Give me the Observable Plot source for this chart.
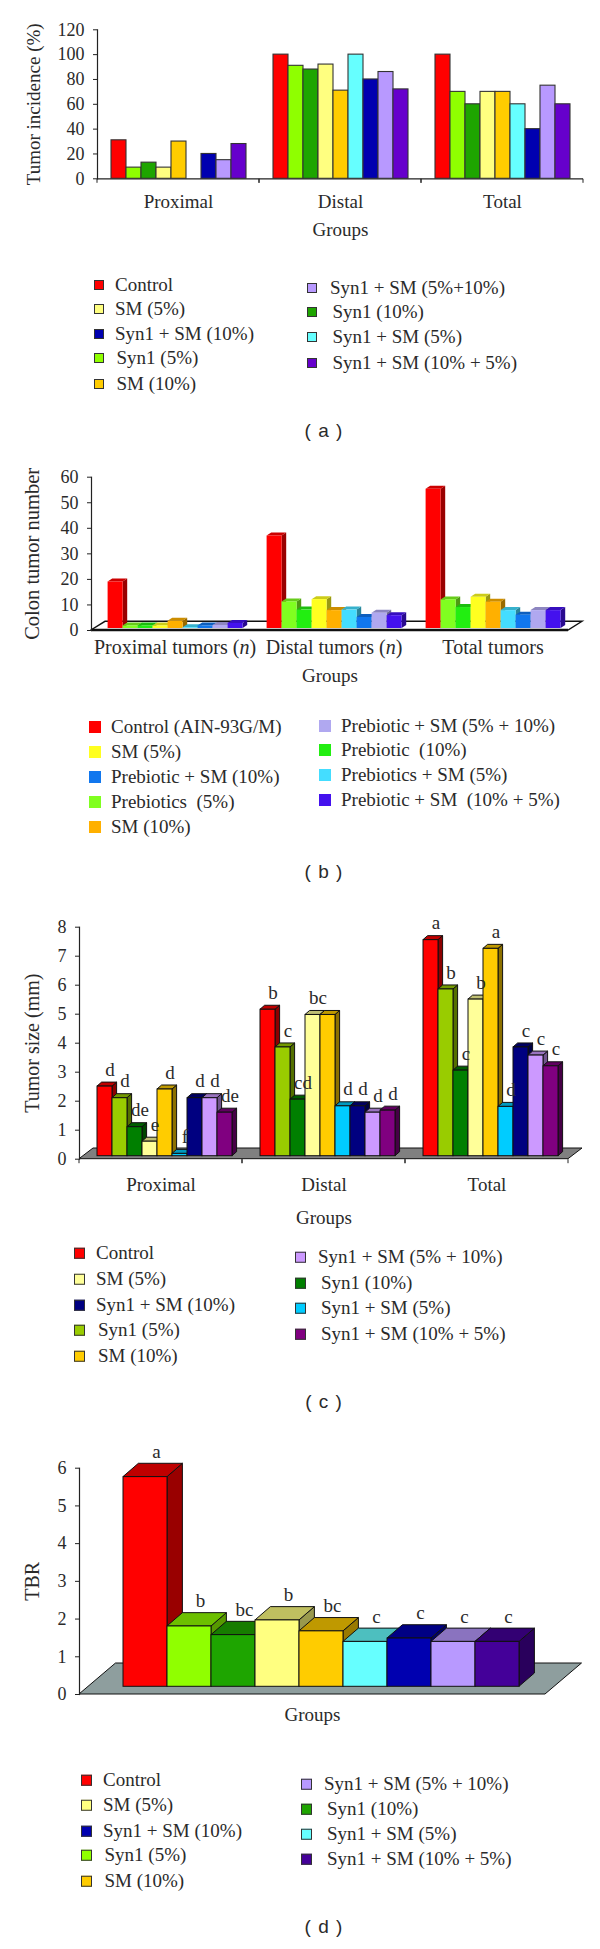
<!DOCTYPE html>
<html><head><meta charset="utf-8">
<script src="https://cdn.jsdelivr.net/npm/d3@7"></script>
<script src="https://cdn.jsdelivr.net/npm/@observablehq/plot@0.6"></script>
<style>
html,body{margin:0;padding:0;background:#fff}
#page{position:relative;width:600px;height:1949px;overflow:hidden;font-family:"Liberation Serif",serif;color:#2a2a2a}
#page svg{position:absolute;left:0;background:transparent}
.leg{position:absolute;white-space:pre;font-size:19px;line-height:20px;transform:translateY(-10px)}
.sw{position:absolute;box-sizing:border-box;transform:translateY(-50%)}
.cap{position:absolute;font-family:"Liberation Sans",sans-serif;font-size:19px;letter-spacing:1px;transform:translate(-50%,-50%);white-space:pre}
</style></head><body><div id="page"></div>
<script>
const groups3 = ["Proximal", "Distal", "Total"];
const seriesKeys = ["Control","Syn1 5","Syn1 10","SM 5","SM 10","Mix 5","Mix 10","Mix 5+10","Mix 10+5"];

// (a) tumor incidence
const incidenceProximal = [31, 9, 13, 9, 30, 0, 20, 15, 28];
const incidenceDistal   = [100, 91, 88, 92, 71, 100, 80, 86, 72];
const incidenceTotal    = [100, 70, 60, 70, 70, 60, 40, 75, 60];
const colorsA = ["#ff0000","#8fff00","#1ea500","#ffff80","#ffcc00","#66ffff","#0000b0","#b899ff","#6600cc"];

// (b) colon tumor number
const groupsB = ["Proximal tumors (n)", "Distal tumors (n)", "Total tumors"];
const numberProximal = [18.2, 1, 1, 1, 2.8, 0.3, 1, 1.2, 2];
const numberDistal   = [36.2, 10.4, 7.2, 11.3, 7, 7.2, 4.3, 6, 5];
const numberTotal    = [54.5, 11.2, 8.2, 12.2, 10.3, 7, 5.2, 7, 7];
const colorsB = ["#ff0000","#80ff20","#22ee11","#ffff20","#ffb000","#44ddff","#1177ee","#b0a8f0","#4411ee"];

// (c) tumor size
const sizeProximal = [2.4, 2.0, 1.0, 0.5, 2.3, 0.08, 2.0, 2.0, 1.5];
const sizeDistal   = [5.05, 3.75, 1.95, 4.87, 4.87, 1.72, 1.72, 1.5, 1.57];
const sizeTotal    = [7.45, 5.75, 2.95, 5.4, 7.15, 1.7, 3.75, 3.47, 3.1];
const lettersProximal = ["d","d","de","e","d","f","d","d","de"];
const lettersDistal   = ["b","c","cd","bc","","d","d","d","d"];
const lettersTotal    = ["a","b","c","b","a","d","c","c","c"];
const colorsC = ["#ff0000","#99cc00","#007f00","#ffff99","#ffcc00","#00ccff","#000080","#cc99ff","#800080"];

// (d) TBR
const tbrValues  = [5.56, 1.6, 1.37, 1.76, 1.47, 1.19, 1.28, 1.19, 1.19];
const tbrLetters = ["a","b","bc","b","bc","c","c","c","c"];
const colorsD = ["#ff0000","#90ff00","#1ea500","#ffff80","#ffcc00","#66ffff","#0000b0","#b899ff","#440099"];

// legends
const legendLeftA = ["Control","SM (5%)","Syn1 + SM (10%)","Syn1 (5%)","SM (10%)"];
const legendRightA = ["Syn1 + SM (5%+10%)","Syn1 (10%)","Syn1 + SM (5%)","Syn1 + SM (10% + 5%)"];
const legendLeftB = ["Control (AIN-93G/M)","SM (5%)","Prebiotic + SM (10%)","Prebiotics  (5%)","SM (10%)"];
const legendRightB = ["Prebiotic + SM (5% + 10%)","Prebiotic  (10%)","Prebiotics + SM (5%)","Prebiotic + SM  (10% + 5%)"];
const legendLeftC = ["Control","SM (5%)","Syn1 + SM (10%)","Syn1 (5%)","SM (10%)"];
const legendRightC = ["Syn1 + SM (5% + 10%)","Syn1 (10%)","Syn1 + SM (5%)","Syn1 + SM (10% + 5%)"];
const leftOrder = [0,3,6,1,4];
const rightOrder = [7,2,5,8];

const page = document.getElementById("page");
const FONT = "Liberation Serif";
const shade = (c,k)=>{const r=d3.rgb(c);return d3.rgb(r.r*k,r.g*k,r.b*k).formatHex();};
const NS = "http://www.w3.org/2000/svg";
function el(name, attrs){const e=document.createElementNS(NS,name);for(const k in attrs)e.setAttribute(k,attrs[k]);return e;}

function panel(o){
  const rows = o.values.flatMap((vals,g)=>vals.map((v,s)=>({
    group:o.groups?o.groups[g]:null, series:seriesKeys[s], value:v, color:o.colors[s],
    letter:o.letters?o.letters[g][s]:""})));
  const fx = o.groups ? (d=>d.group) : undefined;
  const marks = [];
  const y0 = (s)=>s.y(0);
  if(o.floor){
    marks.push(Plot.frame({facet:"super",stroke:"none",fill:"none",render(i,s,v,dim){
      const g = el("g",{});
      const L=dim.marginLeft,R=dim.width-dim.marginRight,Y=y0(s),F=o.floor;
      g.appendChild(el("polygon",{points:`${L},${Y} ${R},${Y} ${R+F.dx},${Y+F.dy} ${L+F.dx},${Y+F.dy}`,
        fill:F.fill,stroke:F.stroke,"stroke-width":F.width}));
      if(F.front) g.appendChild(el("line",{x1:L,x2:R,y1:Y,y2:Y,stroke:F.stroke,"stroke-width":F.front}));
      return g;
    }}));
  } else {
    marks.push(Plot.ruleY([0],{stroke:"#222",strokeWidth:1.2}));
  }
  marks.push(Plot.frame({anchor:"left",facet:"super",stroke:"#222",strokeWidth:1.2}));
  if(o.boundaryTicks){
    marks.push(Plot.ruleY([0],{stroke:"none",render(i,s,v,dim,ctx,next){
      const g=next(i,s,v,dim,ctx);const Y=y0(s);
      for(const X of [dim.marginLeft,dim.width-dim.marginRight])
        g.appendChild(el("line",{x1:X,x2:X,y1:Y,y2:Y+4,stroke:"#222","stroke-width":1}));
      return g;
    }}));
  }
  const d3opt = o.depth;
  marks.push(Plot.barY(rows,{x:"series",y:"value",fx,fill:"color",stroke:o.stroke||"none",strokeWidth:o.strokeWidth||1,
    render(i,s,v,dim,ctx,next){
      const g=next(i,s,v,dim,ctx);
      if(!d3opt) return g;
      const rects=[...g.querySelectorAll("rect")];
      rects.forEach((r,j)=>{
        const c=rows[i[j]].color;
        const x=+r.getAttribute("x"),yy=+r.getAttribute("y"),w=+r.getAttribute("width"),h=+r.getAttribute("height");
        const dx=d3opt.dx,dy=d3opt.dy;
        const st={stroke:o.stroke||"none","stroke-width":o.strokeWidth||1};
        const side=el("polygon",{points:`${x+w},${yy} ${x+w+dx},${yy+dy} ${x+w+dx},${yy+h+dy} ${x+w},${yy+h}`,fill:shade(c,d3opt.side),...st});
        const top=el("polygon",{points:`${x},${yy} ${x+dx},${yy+dy} ${x+w+dx},${yy+dy} ${x+w},${yy}`,fill:shade(c,d3opt.top),...st});
        g.insertBefore(side,r);g.insertBefore(top,r);
      });
      const outer=el("g",{transform:`translate(${d3opt.ox},${d3opt.oy})`});
      outer.appendChild(g);
      return outer;
    }}));
  if(o.letters){
    marks.push(Plot.text(rows,{x:"series",y:"value",fx,text:"letter",dx:o.letterDx,dy:o.letterDy,fontSize:19,fill:"#2a2a2a"}));
  }
  marks.push(Plot.axisY({ticks:o.yTicks,tickFormat:d=>String(d),tickSize:4,tickPadding:9,fontSize:18,label:null,stroke:"#222"}));
  marks.push(Plot.axisY({ticks:[],label:o.yLabel,labelAnchor:"center",labelOffset:o.yLabelOffset,labelArrow:"none",fontSize:o.yLabelSize}));
  if(o.groups){
    marks.push(Plot.axisFx({anchor:"bottom",tickSize:0,tickPadding:o.catPad,label:null,fontSize:o.catSize||19,dx:o.catDx||0}));
    marks.push(Plot.axisFx({anchor:"bottom",ticks:[],label:"Groups",labelAnchor:"center",labelOffset:o.groupOffset,labelArrow:"none",fontSize:19}));
  } else {
    marks.push(Plot.axisX({anchor:"bottom",ticks:[],label:"Groups",labelAnchor:"center",labelOffset:o.groupOffset,labelArrow:"none",fontSize:19,dx:o.catDx||0}));
  }
  const chart = Plot.plot({
    width:600,height:o.height,marginLeft:o.ml,marginRight:o.mr,marginTop:o.mt,marginBottom:o.height-o.y0,
    style:{fontFamily:FONT,background:"transparent",color:"#2a2a2a",overflow:"visible"},
    x:{domain:seriesKeys,paddingInner:0,paddingOuter:o.pad,axis:null,label:null},
    y:{domain:o.yDomain,axis:null,label:null},
    ...(o.groups?{fx:{domain:o.groups,padding:0,axis:null,label:null}}:{}),
    marks
  });
  // italic n in the category labels, as in the reference
  chart.querySelectorAll("text").forEach(t=>{
    const holder=[...t.querySelectorAll("tspan")].find(s=>s.textContent.includes("(n)"))||(t.textContent.includes("(n)")?t:null);
    if(holder){
      const parts=holder.textContent.split("(n)");
      holder.textContent=parts[0]+"(";
      const it=el("tspan",{"font-style":"italic"});it.textContent="n";holder.appendChild(it);
      holder.appendChild(document.createTextNode(")"));
    }
  });
  chart.style.top=o.top+"px";
  page.appendChild(chart);
}

function legend(top,left,right,colors,L,R,size,border){
  const add=(names,order,col)=>names.forEach((t,i)=>{
    const sw=document.createElement("div");sw.className="sw";
    sw.style.cssText=`left:${col.sx}px;top:${top+col.ys[i]}px;width:${size}px;height:${size}px;background:${colors[order[i]]};${border?"border:1.2px solid #333;":""}`;
    page.appendChild(sw);
    const d=document.createElement("div");d.className="leg";d.textContent=t;
    d.style.left=col.tx[i]+"px";d.style.top=(top+col.ys[i])+"px";page.appendChild(d);
  });
  add(left,leftOrder,L);add(right,rightOrder,R);
}
function caption(t,y){const d=document.createElement("div");d.className="cap";d.textContent=t;d.style.left="324px";d.style.top=y+"px";page.appendChild(d);}

panel({top:0,height:250,ml:96,mr:17,mt:29.3,y0:178.3,pad:0.72,yDomain:[0,120],yTicks:[0,20,40,60,80,100,120],
  groups:groups3,values:[incidenceProximal,incidenceDistal,incidenceTotal],colors:colorsA,stroke:"#333",strokeWidth:1.1,
  yLabel:"Tumor incidence (%)",yLabelOffset:71,yLabelSize:19,catPad:16,groupOffset:57,boundaryTicks:true});
legend(0,legendLeftA,legendRightA,colorsA,
  {sx:94,tx:[115,115,115,116.5,116.5],ys:[285,309,334,358,384]},
  {sx:307,tx:[330,332.5,332.5,332.5],ys:[288,312,337,363]},10,true);
caption("( a )",431);

panel({top:450,height:250,ml:91,mr:32,mt:26.7,y0:180,pad:0.72,yDomain:[0,60],yTicks:[0,10,20,30,40,50,60],
  groups:groupsB,values:[numberProximal,numberDistal,numberTotal],colors:colorsB,
  depth:{dx:4.6,dy:-3,ox:4.6,oy:-2,side:0.6,top:0.8},floor:{dx:14,dy:-8.7,fill:"#fff",stroke:"#111",width:1.4,front:2.4},
  yLabel:"Colon tumor number",yLabelOffset:67,yLabelSize:20.5,catPad:9,catDx:4,catSize:20,groupOffset:51});
legend(450,legendLeftB,legendRightB,colorsB,
  {sx:89,tx:[111,111,111,111,111],ys:[277,302,327,352,377]},
  {sx:319,tx:[341,341,341,341],ys:[276,300,325,350]},12,false);
caption("( b )",872);

panel({top:900,height:345,ml:78,mr:31.5,mt:26.7,y0:258.7,pad:0.72,yDomain:[0,8],yTicks:[0,1,2,3,4,5,6,7,8],
  groups:groups3,values:[sizeProximal,sizeDistal,sizeTotal],colors:colorsC,stroke:"#111",strokeWidth:1,
  letters:[lettersProximal,lettersDistal,lettersTotal],letterDx:9,letterDy:-20,
  depth:{dx:4.6,dy:-4,ox:4,oy:-3,side:0.55,top:0.75},floor:{dx:14,dy:-10.7,fill:"#808080",stroke:"#111",width:1},
  yLabel:"Tumor size (mm)",yLabelOffset:55,yLabelSize:20,catPad:18,groupOffset:65,boundaryTicks:true});
legend(900,legendLeftC,legendRightC,colorsC,
  {sx:74,tx:[96,96,96,98,98],ys:[353,379,405,430,456]},
  {sx:295,tx:[318,321,321,321],ys:[357,383,408,434]},10.5,true);
caption("( c )",1402);

panel({top:1420,height:310,ml:79,mr:55,mt:47.7,y0:274,pad:0.77,yDomain:[0,6],yTicks:[0,1,2,3,4,5,6],
  values:[tbrValues],letters:[tbrLetters],colors:colorsD,stroke:"#111",strokeWidth:1,
  letterDx:20,letterDy:-33,
  depth:{dx:15.4,dy:-13.3,ox:9,oy:-7.7,side:0.6,top:0.75},floor:{dx:36.5,dy:-31,fill:"#8e9e9e",stroke:"#111",width:1},
  yLabel:"TBR",yLabelOffset:55,yLabelSize:20,groupOffset:26});
legend(1420,legendLeftC,legendRightC,colorsD,
  {sx:81,tx:[103,103,103,104.5,104.5],ys:[360,385,411,435,461]},
  {sx:301,tx:[324,327,327,327],ys:[364,389,414,439]},10.5,true);
caption("( d )",1927);
</script></body></html>
